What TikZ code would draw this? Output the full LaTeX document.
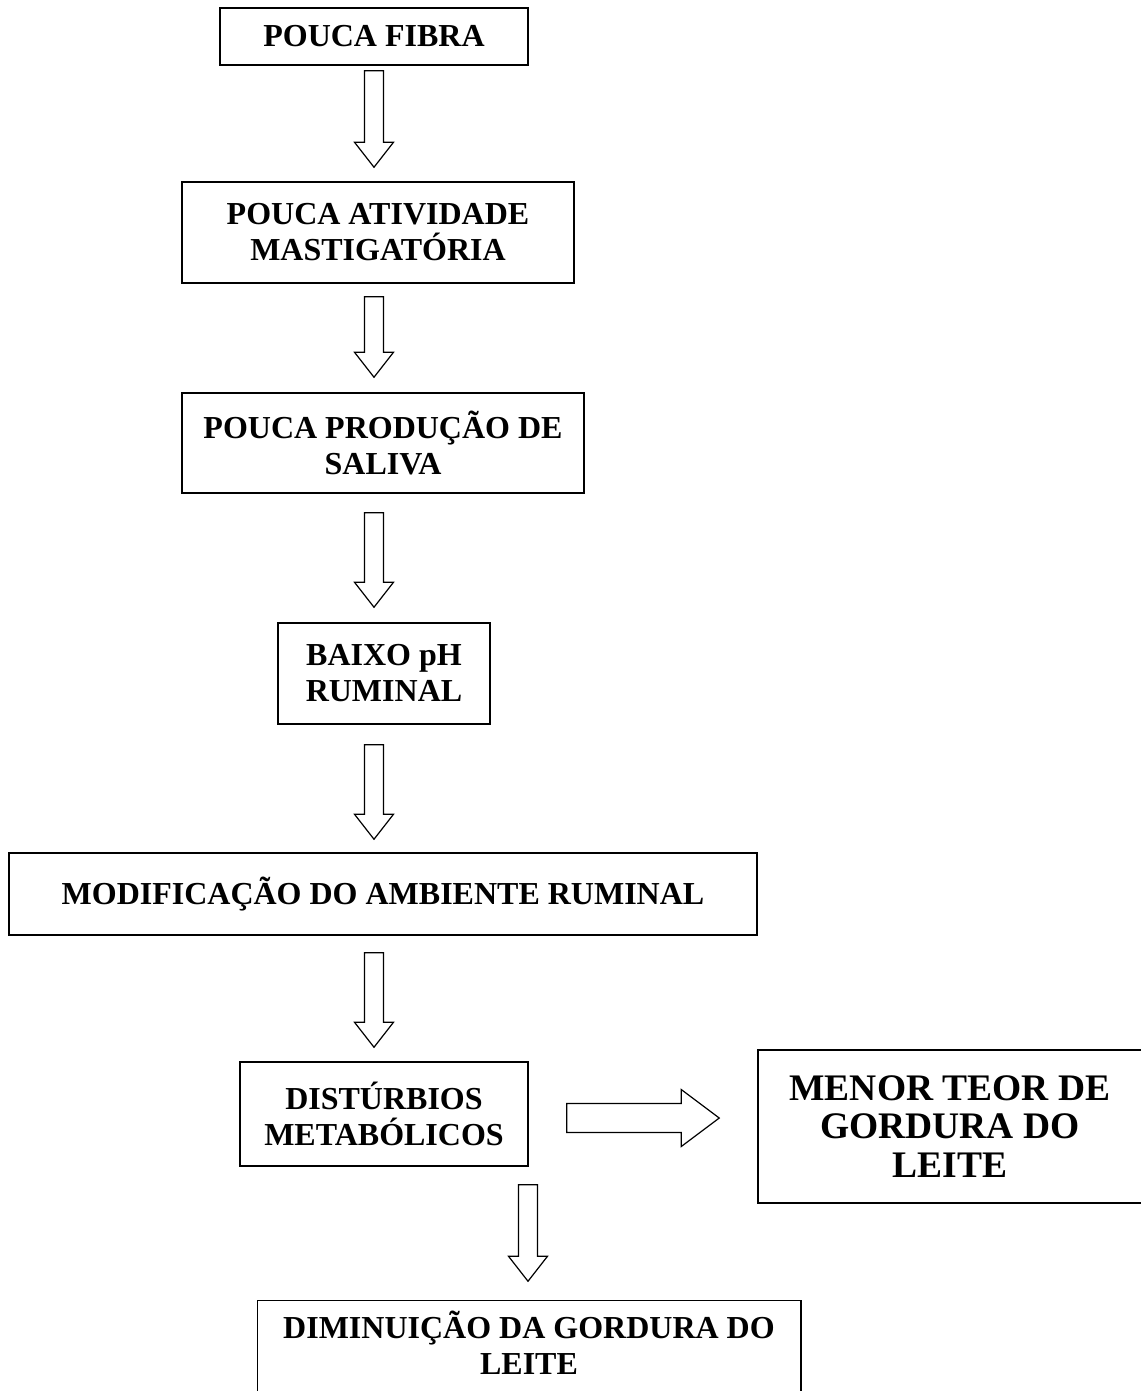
\documentclass[tikz,border=0pt]{standalone}
\usepackage{fontspec}
\setmainfont{Liberation Serif}
\usetikzlibrary{calc}
\tikzset{
  box/.style={draw, line width=1.5pt, align=center, inner sep=0pt,
    font=\bfseries\fontsize{32}{36}\selectfont},
  bigbox/.style={box, font=\bfseries\fontsize{37.5}{38.5}\selectfont},
  boxline/.style={line width=1.5pt},
  blk/.style={draw, line width=1.2pt, line join=miter, fill=white},
}
\newcommand\vblk[2]{%
  \draw[blk] let \p1=(#1), \p2=(#2) in
    (\x1-9.5pt,\y1) -- (\x1+9.5pt,\y1) -- (\x1+9.5pt,\y2+25pt) --
    (\x1+19.5pt,\y2+25pt) -- (\x1,\y2) -- (\x1-19.5pt,\y2+25pt) --
    (\x1-9.5pt,\y2+25pt) -- cycle;}
\newcommand\hblk[2]{%
  \draw[blk] let \p1=(#1), \p2=(#2) in
    (\x1,\y1+14.5pt) -- (\x2-38pt,\y1+14.5pt) -- (\x2-38pt,\y1+28.5pt) --
    (\x2,\y1) -- (\x2-38pt,\y1-28.5pt) -- (\x2-38pt,\y1-14.5pt) --
    (\x1,\y1-14.5pt) -- cycle;}
\begin{document}
\begin{tikzpicture}[x=1pt,y=1pt]
\useasboundingbox (0,0) rectangle (1140,-1391);

\node[box, minimum width=308, minimum height=57] (n1) at (374,-36.5) {POUCA FIBRA};
\node[box, minimum width=392, minimum height=101] (n2) at (378,-232.5) {POUCA ATIVIDADE\\MASTIGATÓRIA};
\node[box, minimum width=402, minimum height=100] (n3) at (383,-443) {POUCA PRODUÇÃO DE\\SALIVA};
\node[box, minimum width=212, minimum height=101] (n4) at (384,-673.5) {BAIXO pH\\RUMINAL};
\node[box, minimum width=748, minimum height=82] (n5) at (383,-894) {MODIFICAÇÃO DO AMBIENTE RUMINAL};
\node[box, minimum width=288, minimum height=104] (n6) at (384,-1114) {DISTÚRBIOS\\METABÓLICOS};
\node[bigbox, minimum width=384, minimum height=153] (n7) at (950,-1126.5) {MENOR TEOR DE\\GORDURA DO\\LEITE};
\node[box, draw=none, minimum width=542, minimum height=84] (n8) at (529,-1343) {DIMINUIÇÃO DA GORDURA DO\\LEITE};
\draw[boxline] ($(n8.south west)+(0,-20)$) -- (n8.north west) -- (n8.north east) -- ($(n8.south east)+(0,-20)$);

\coordinate (a1s) at ($(n1.south)+(0,-5)$);
\coordinate (a1e) at ($(n2.north)+(0,14)$);
\coordinate (a2s) at ($(n2.south)+(-4,-13)$);
\coordinate (a2e) at ($(n3.north)+(0,15)$);
\coordinate (a3s) at ($(n3.south)+(-9,-19)$);
\coordinate (a3e) at ($(n4.north)+(0,15)$);
\coordinate (a4s) at ($(n4.south)+(-10,-20)$);
\coordinate (a4e) at ($(n5.north)+(0,13)$);
\coordinate (a5s) at ($(n5.south)+(-9,-17)$);
\coordinate (a5e) at ($(n6.north)+(0,14)$);
\coordinate (a6s) at ($(n6.south)+(144,-18)$);
\coordinate (a6e) at ($(n8.north)+(0,19)$);
\coordinate (h1s) at ($(n6.east)+(38,-4)$);
\coordinate (h1e) at ($(n7.west)+(-38,0)$);

\vblk{a1s}{a1e}
\vblk{a2s}{a2e}
\vblk{a3s}{a3e}
\vblk{a4s}{a4e}
\vblk{a5s}{a5e}
\vblk{a6s}{a6e}
\hblk{h1s}{h1e}
\end{tikzpicture}
\end{document}
